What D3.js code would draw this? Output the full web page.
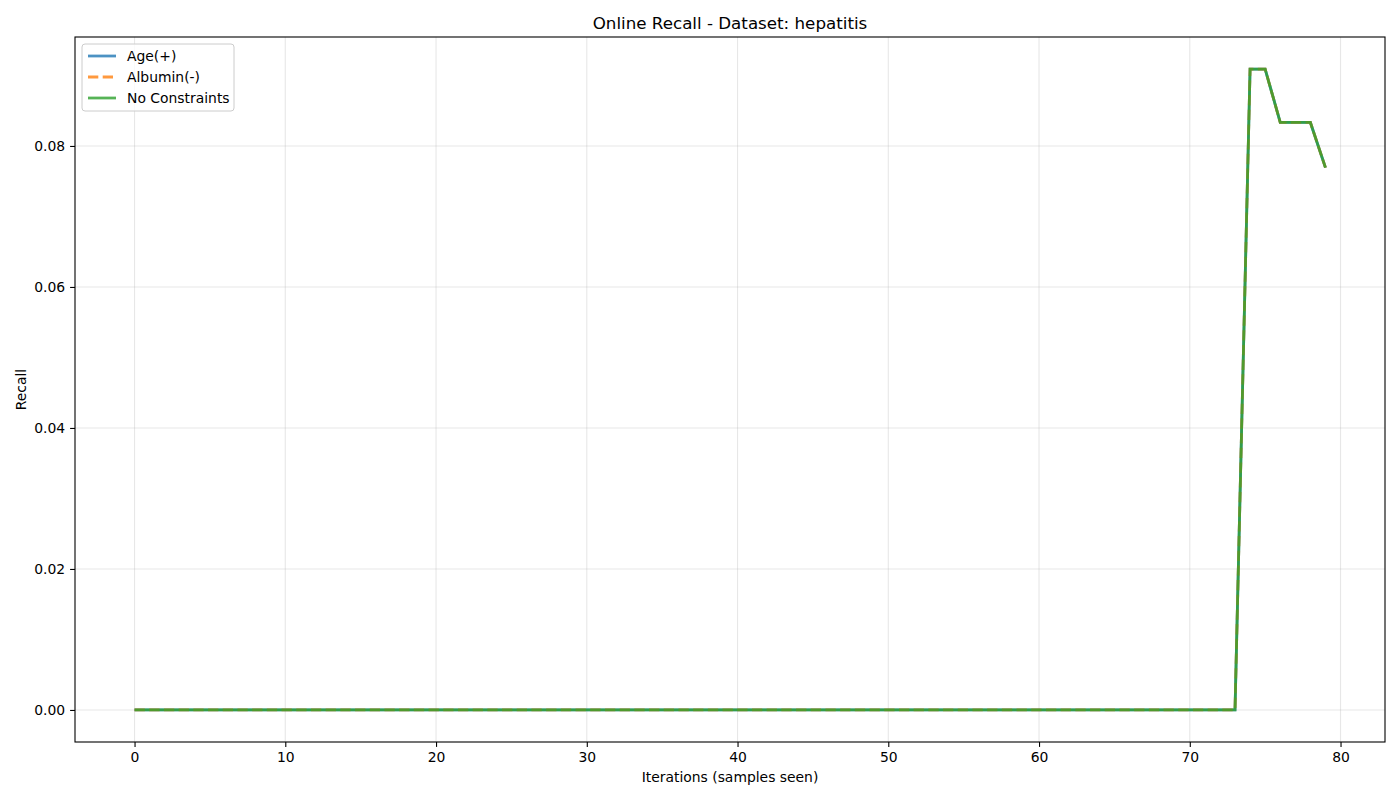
<!DOCTYPE html>
<html>
<head>
<meta charset="utf-8">
<script src="https://cdn.jsdelivr.net/npm/d3@7"></script>
<style>
body { margin: 0; background: #fff; }
text { font-family: "DejaVu Sans", sans-serif; }
</style>
</head>
<body>
<svg id="chart" width="1400" height="800"></svg>
<script>
// data
var iterations = d3.range(0, 80);
var ageRecall = [0,0,0,0,0,0,0,0,0,0, 0,0,0,0,0,0,0,0,0,0, 0,0,0,0,0,0,0,0,0,0, 0,0,0,0,0,0,0,0,0,0,
  0,0,0,0,0,0,0,0,0,0, 0,0,0,0,0,0,0,0,0,0, 0,0,0,0,0,0,0,0,0,0, 0,0,0,0, 1/11, 1/11, 1/12, 1/12, 1/12, 1/13];
var albuminRecall = ageRecall.slice();
var noConstraintRecall = ageRecall.slice();
var xTicks = [0, 10, 20, 30, 40, 50, 60, 70, 80];
var yTicks = [0.00, 0.02, 0.04, 0.06, 0.08];

var series = [
  {name: "Age(+)", values: ageRecall, color: "#1f77b4", dash: null},
  {name: "Albumin(-)", values: albuminRecall, color: "#ff7f0e", dash: "10.3,4.4"},
  {name: "No Constraints", values: noConstraintRecall, color: "#2ca02c", dash: null}
];

var svg = d3.select("#chart");
var pLeft = 75, pRight = 1385, pTop = 37, pBottom = 742;
var fs = 13.9;

var xPad = (79 - 0) * 0.05;
var x = d3.scaleLinear().domain([0 - xPad, 79 + xPad]).range([pLeft, pRight]);
var yMax = d3.max(ageRecall);
var yPad = yMax * 0.05;
var y = d3.scaleLinear().domain([0 - yPad, yMax + yPad]).range([pBottom, pTop]);

// grid
svg.append("g").selectAll("line").data(xTicks).enter().append("line")
  .attr("x1", d => x(d)).attr("x2", d => x(d)).attr("y1", pTop).attr("y2", pBottom)
  .attr("stroke", "#b0b0b0").attr("stroke-opacity", 0.3).attr("stroke-width", 1.1);
svg.append("g").selectAll("line").data(yTicks).enter().append("line")
  .attr("y1", d => y(d)).attr("y2", d => y(d)).attr("x1", pLeft).attr("x2", pRight)
  .attr("stroke", "#b0b0b0").attr("stroke-opacity", 0.3).attr("stroke-width", 1.1);

// axes
var xAxis = d3.axisBottom(x).tickValues(xTicks).tickFormat(d3.format("d")).tickSizeOuter(0).tickSize(4.9).tickPadding(4.9);
var yAxis = d3.axisLeft(y).tickValues(yTicks).tickFormat(d3.format(".2f")).tickSizeOuter(0).tickSize(4.9).tickPadding(4.9);
var gx = svg.append("g").attr("transform", "translate(0," + pBottom + ")").call(xAxis);
var gy = svg.append("g").attr("transform", "translate(" + pLeft + ",0)").call(yAxis);
[gx, gy].forEach(function(g) {
  g.select(".domain").remove();
  g.selectAll("text").attr("font-size", fs).attr("fill", "#000").style("font-family", "DejaVu Sans, sans-serif");
  g.selectAll("line").attr("stroke", "#000").attr("stroke-width", 1.1);
});

// lines
var line = d3.line().x((d, i) => x(iterations[i])).y(d => y(d));
series.forEach(function(s) {
  svg.append("path").datum(s.values)
    .attr("d", line)
    .attr("fill", "none")
    .attr("stroke", s.color)
    .attr("stroke-opacity", 0.8)
    .attr("stroke-width", 2.78)
    .attr("stroke-dasharray", s.dash);
});

// frame
svg.append("rect").attr("x", pLeft).attr("y", pTop).attr("width", pRight - pLeft).attr("height", pBottom - pTop)
  .attr("fill", "none").attr("stroke", "#000").attr("stroke-width", 1.1);

// titles
svg.append("text").attr("x", (pLeft + pRight) / 2).attr("y", 29).attr("text-anchor", "middle")
  .attr("font-size", 16.7).text("Online Recall - Dataset: hepatitis");
svg.append("text").attr("x", (pLeft + pRight) / 2).attr("y", 782).attr("text-anchor", "middle")
  .attr("font-size", fs).text("Iterations (samples seen)");
svg.append("text").attr("transform", "translate(26," + ((pTop + pBottom) / 2) + ") rotate(-90)")
  .attr("text-anchor", "middle").attr("font-size", fs).text("Recall");

// legend
var lg = svg.append("g").attr("transform", "translate(82,44)");
lg.append("rect").attr("width", 152).attr("height", 67).attr("rx", 3)
  .attr("fill", "#fff").attr("fill-opacity", 0.8).attr("stroke", "#ccc").attr("stroke-width", 1);
series.forEach(function(s, i) {
  var yy = 12 + i * 21;
  lg.append("line").attr("x1", 6).attr("x2", 34).attr("y1", yy).attr("y2", yy)
    .attr("stroke", s.color).attr("stroke-opacity", 0.8).attr("stroke-width", 2.78)
    .attr("stroke-dasharray", s.dash);
  lg.append("text").attr("x", 45).attr("y", yy + 5).attr("font-size", fs).text(s.name);
});
</script>
</body>
</html>
